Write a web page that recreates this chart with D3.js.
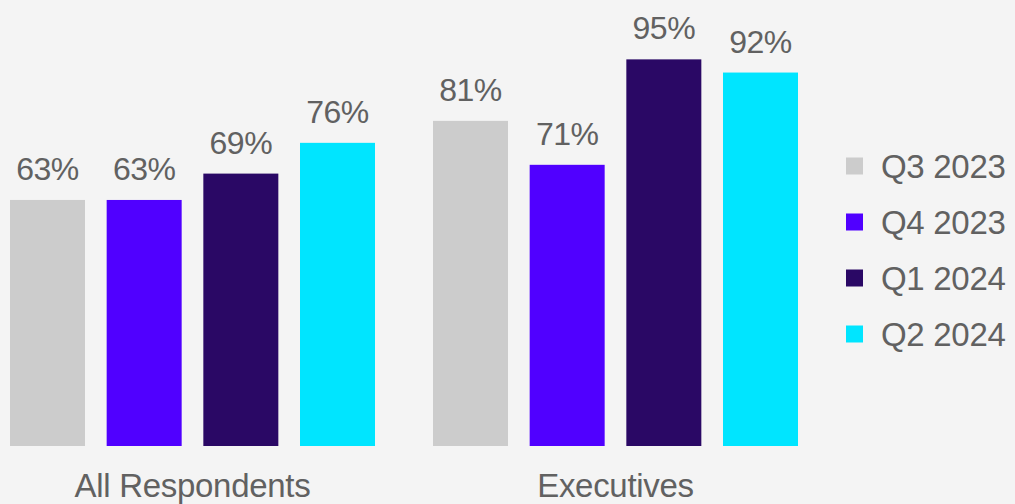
<!DOCTYPE html>
<html><head><meta charset="utf-8">
<script src="https://cdn.jsdelivr.net/npm/d3@7"></script>
<style>html,body{margin:0;padding:0;background:#f4f4f4;}svg{display:block;}</style>
</head><body>
<svg id="c" width="1015" height="504"></svg>
<script>
const groups = ["All Respondents", "Executives"];
const series = ["Q3 2023", "Q4 2023", "Q1 2024", "Q2 2024"];
const colors = ["#cccccc", "#5000ff", "#2a0865", "#00e5ff"];
const allRespondents = [63, 63, 69, 76];
const executives = [81, 71, 95, 92];
const values = [allRespondents, executives];

const svg = d3.select("#c");
const font = "'Liberation Sans', Arial, sans-serif";
const textColor = "#616161";

const x0 = d3.scaleBand().domain(groups).range([10, 798]).paddingInner(58/423).paddingOuter(0);
const x1 = d3.scaleBand().domain(series).range([0, x0.bandwidth()]).paddingInner(65/290).paddingOuter(0);
const y = d3.scaleLinear().domain([7, 100]).range([446, 37.4]);
const color = d3.scaleOrdinal().domain(series).range(colors);

const g = svg.selectAll("g.grp").data(groups).join("g")
  .attr("transform", d => `translate(${x0(d)},0)`);

g.each(function(grp, gi) {
  const data = series.map((s, i) => ({s, v: values[gi][i]}));
  const sel = d3.select(this);
  sel.selectAll("rect").data(data).join("rect")
    .attr("x", d => x1(d.s)).attr("width", x1.bandwidth())
    .attr("y", d => y(d.v)).attr("height", d => y.range()[0] - y(d.v))
    .attr("fill", d => color(d.s));
  sel.selectAll("text.v").data(data).join("text").attr("class","v")
    .attr("x", d => x1(d.s) + x1.bandwidth()/2).attr("y", d => y(d.v) - 20)
    .attr("text-anchor", "middle").attr("font-family", font).attr("font-size", 32)
    .attr("fill", textColor).attr("letter-spacing", -0.5).text(d => d.v + "%");
});

svg.selectAll("text.cat").data(groups).join("text").attr("class","cat")
  .attr("x", d => x0(d) + x0.bandwidth()/2).attr("y", 497)
  .attr("text-anchor", "middle").attr("font-family", font).attr("font-size", 33)
  .attr("fill", textColor).attr("letter-spacing", -0.3).text(d => d);

const ly = d3.scalePoint().domain(series).range([166, 334]);
const lg = svg.selectAll("g.leg").data(series).join("g").attr("class","leg")
  .attr("transform", d => `translate(846,${ly(d)})`);
lg.append("rect").attr("x", 0).attr("y", -8.5).attr("width", 17).attr("height", 17).attr("fill", d => color(d));
lg.append("text").attr("x", 35).attr("y", 12).attr("font-family", font).attr("font-size", 33)
  .attr("fill", textColor).attr("letter-spacing", -0.3).text(d => d);
</script>
</body></html>
